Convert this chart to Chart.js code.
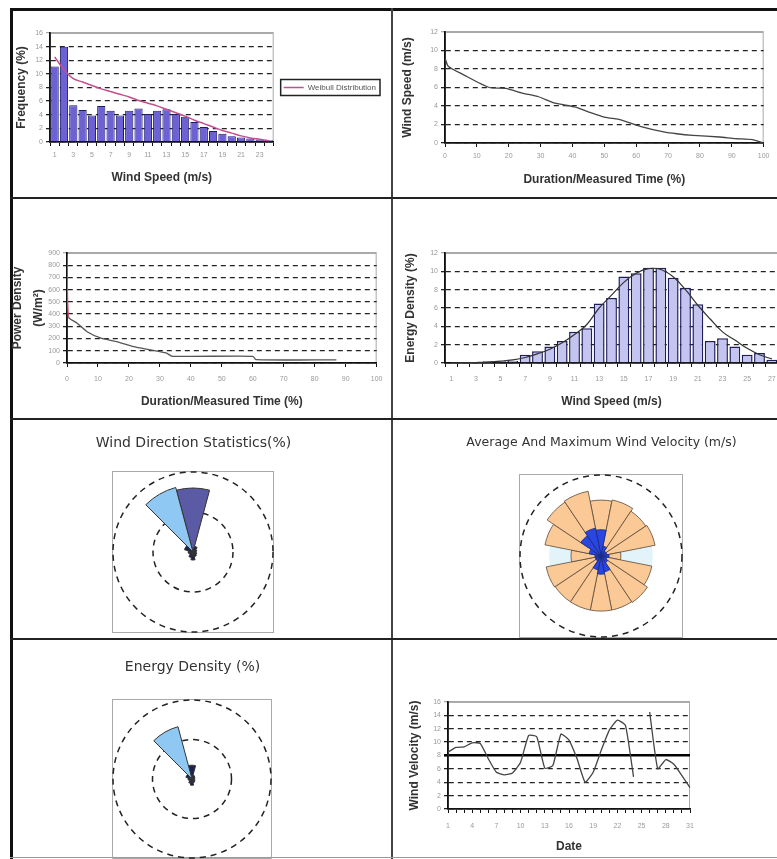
<!DOCTYPE html>
<html>
<head>
<meta charset="utf-8">
<title>Wind statistics</title>
<script src="https://cdn.jsdelivr.net/npm/chart.js@4.4.1/dist/chart.umd.min.js"></script>
<style>
  html, body { margin: 0; padding: 0; background: #fff; }
  body { position: relative; width: 777px; height: 859px; overflow: hidden; }
  .rule { position: absolute; background: #222; }
  canvas { position: absolute; }
</style>
</head>
<body>
<div class="rule" style="left:10px;top:8px;width:780px;height:3px;background:#111"></div>
<div class="rule" style="left:10px;top:8px;width:3px;height:860px;background:#111"></div>
<div class="rule" style="left:391px;top:8px;width:2px;height:860px;background:#444"></div>
<div class="rule" style="left:10px;top:197px;width:780px;height:2px"></div>
<div class="rule" style="left:10px;top:418px;width:780px;height:2px"></div>
<div class="rule" style="left:10px;top:638px;width:780px;height:2px"></div>
<div class="rule" style="left:10px;top:857px;width:780px;height:1px;background:#999"></div>

<canvas id="freqChart" width="376" height="184" style="left:14px;top:12px"></canvas>
<canvas id="durChart" width="380" height="184" style="left:394px;top:12px"></canvas>
<canvas id="powerChart" width="388" height="217" style="left:2px;top:200px"></canvas>
<canvas id="energyChart" width="396" height="217" style="left:394px;top:200px"></canvas>
<canvas id="dirChart" width="359" height="217" style="left:14px;top:421px"></canvas>
<canvas id="velRoseChart" width="415" height="217" style="left:394px;top:421px"></canvas>
<canvas id="energyRoseChart" width="357" height="217" style="left:14px;top:642px"></canvas>
<canvas id="dailyChart" width="380" height="217" style="left:394px;top:642px"></canvas>

<script>
// wind speed frequency distribution
const speedBins = ['1','2','3','4','5','6','7','8','9','10','11','12','13','14','15','16','17','18','19','20','21','22','23','24'];
const freqPct = [11.1, 14.0, 5.4, 4.7, 3.9, 5.3, 4.6, 3.9, 4.6, 4.9, 4.1, 4.6, 4.8, 4.1, 3.7, 2.95, 2.2, 1.6, 1.2, 0.85, 0.65, 0.5, 0.35, 0.25];
const weibullFit = [12.5, 10.6, 9.3, 8.8, 8.3, 7.8, 7.4, 7.0, 6.6, 6.1, 5.7, 5.3, 4.8, 4.3, 3.8, 3.2, 2.7, 2.2, 1.7, 1.3, 0.9, 0.6, 0.4, 0.2];

// speed duration curve
const durPct = [0, 1, 5.7, 13.9, 19.1, 24.2, 29.4, 34.5, 40.7, 44.8, 50, 55.2, 60.3, 63.4, 68.6, 72.7, 77.8, 86.1, 91.2, 96.4, 100];
const durSpeed = [9.2, 8.3, 7.4, 6.0, 5.9, 5.4, 5.0, 4.3, 3.9, 3.4, 2.8, 2.5, 1.9, 1.6, 1.2, 1.0, 0.83, 0.65, 0.47, 0.36, 0];

// power density duration curve
const pdPct = [0, 0.5, 3.2, 6.5, 10.8, 16, 21.5, 27, 32, 34, 60, 61, 87];
const pdPower = [890, 375, 328, 256, 205, 175, 134, 107, 82, 55, 55, 28, 25];

// energy density by wind speed
const energyBins = ['1','2','3','4','5','6','7','8','9','10','11','12','13','14','15','16','17','18','19','20','21','22','23','24','25','26','27'];
const energyPct = [0.0, 0.05, 0.07, 0.18, 0.18, 0.25, 0.9, 1.27, 1.8, 2.4, 3.4, 3.8, 6.5, 7.1, 9.45, 9.8, 10.4, 10.4, 9.3, 8.2, 6.4, 2.4, 2.7, 1.8, 0.9, 1.1, 0.36];
const energyFit = [0, 0.02, 0.05, 0.1, 0.2, 0.35, 0.6, 1.0, 1.5, 2.2, 3.1, 4.2, 6.0, 7.4, 8.8, 9.8, 10.3, 10.2, 9.4, 8.0, 6.3, 4.8, 3.4, 2.5, 1.6, 0.9, 0.45];

// roses
const dir12 = ['0°','30°','60°','90°','120°','150°','180°','210°','240°','270°','300°','330°'];
const dirFreqPct = [16.0, 1.5, 1.0, 0.8, 1.0, 1.2, 2.0, 1.5, 1.0, 1.2, 2.2, 16.7];
const dirEnergyPct = [3.5, 1.0, 0.8, 0.6, 0.8, 1.0, 1.6, 1.2, 0.8, 1.0, 1.6, 13.7];
const dir16 = ['N','NNE','NE','ENE','E','ESE','SE','SSE','S','SSW','SW','WSW','W','WNW','NW','NNW'];
const velAvg = [6.5, 2.5, 1.5, 1.5, 2.0, 1.5, 2.0, 4.0, 4.5, 3.5, 1.5, 1.5, 1.5, 3.0, 6.0, 7.0];
const velMax = [13.8, 14.1, 13.3, 13.6, 4.9, 12.8, 13.8, 13.6, 13.6, 13.6, 13.6, 13.8, 7.4, 14.1, 16.0, 16.3];
const velTypical = [12.6, 12.8, 12.5, 12.7, 12.8, 12.6, 12.5, 12.7, 12.6, 12.5, 12.6, 12.7, 12.8, 12.6, 12.5, 12.6];

// daily mean wind velocity
const days = ['1','2','3','4','5','6','7','8','9','10','11','12','13','14','15','16','17','18','19','20','21','22','23','24','25','26','27','28','29','30','31'];
const velocity = [8.5, 9.2, 9.3, 9.9, 9.8, 7.5, 5.5, 5.1, 5.4, 7.0, 11.0, 10.8, 6.1, 6.5, 11.2, 10.3, 7.5, 4.0, 5.5, 8.8, 11.8, 13.3, 12.5, 4.8, null, 14.5, 6.0, 7.4, 6.7, 5.0, 3.2];
const meanVelocity = 8;

Chart.defaults.font.family = '"Liberation Sans", Arial, sans-serif';
Chart.defaults.animation = false;
Chart.defaults.plugins.legend.display = false;
Chart.defaults.plugins.tooltip.enabled = false;

const tickFont = { size: 7 };
const tickColor = '#999';
const titleFont = { size: 12, weight: 'bold' };
const legendFont = { size: 8 };

// grey frame round the plot area (or a square round a rose), drawn first
const plotFrame = {
  id: 'plotFrame',
  beforeDraw(chart, args, opts) {
    if (!opts.color) return;
    const ctx = chart.ctx;
    let x, y, w, h;
    const r = chart.scales.r;
    if (r) {
      const half = r.drawingArea + 1;
      x = r.xCenter - half; y = r.yCenter - half; w = half * 2; h = half * 2;
    } else {
      const a = chart.chartArea;
      x = a.left; y = a.top; w = a.right - a.left; h = a.bottom - a.top;
    }
    ctx.save();
    ctx.strokeStyle = opts.color;
    ctx.lineWidth = 1;
    ctx.strokeRect(x + 0.5, y + 0.5, w - 1, h - 1);
    ctx.restore();
  }
};

// box round the legend like the excel one
const legendBox = {
  id: 'legendBox',
  afterDraw(chart, args, opts) {
    if (!opts.display || !chart.legend || !chart.legend.legendHitBoxes.length) return;
    const hb = chart.legend.legendHitBoxes[0];
    const item = chart.legend.legendItems[0];
    const ctx = chart.ctx;
    ctx.save();
    ctx.font = legendFont.size + 'px ' + Chart.defaults.font.family;
    const w = 20 + legendFont.size / 2 + ctx.measureText(item.text).width;
    ctx.strokeStyle = '#222';
    ctx.lineWidth = 1.5;
    ctx.strokeRect(hb.left - 3, hb.top - 4, w + 7, hb.height + 8);
    ctx.restore();
  }
};
Chart.register(plotFrame, legendBox);

function valueAxis(max, step, title, width, titlePad, special) {
  const isTop = c => c.tick && c.tick.value === max;
  const isSpecial = c => special !== undefined && c.tick && c.tick.value === special;
  return {
    min: 0, max: max,
    ticks: { stepSize: step, font: tickFont, color: tickColor, padding: 3 },
    grid: {
      color: c => isSpecial(c) ? '#000' : (isTop(c) ? '#aaa' : '#222'),
      lineWidth: c => isSpecial(c) ? 2.6 : 1.3,
      tickLength: 4
    },
    border: { color: '#111', width: 1.8, dash: c => (isTop(c) || isSpecial(c)) ? [] : [5, 4] },
    title: { display: true, text: title, font: titleFont, color: '#333', padding: { top: titlePad, bottom: 0 } },
    afterFit: s => { s.width = width; }
  };
}

function catAxis(title, height, labelPad, titlePad, every) {
  return {
    ticks: {
      font: tickFont, color: tickColor, padding: labelPad, autoSkip: false, maxRotation: 0,
      callback: function (v, i) { return i % every === 0 ? this.getLabelForValue(v) : ''; }
    },
    grid: { drawOnChartArea: false, color: '#111', tickLength: 4 },
    border: { color: '#111', width: 1.8 },
    title: { display: true, text: title, font: titleFont, color: '#333', padding: { top: 0, bottom: titlePad } },
    afterFit: s => { s.height = height; }
  };
}

function pctAxis(title, height, labelPad, titlePad) {
  return {
    type: 'linear', min: 0, max: 100,
    ticks: { stepSize: 10, font: tickFont, color: tickColor, padding: labelPad, maxRotation: 0 },
    grid: { drawOnChartArea: false, color: '#111', tickLength: 4 },
    border: { color: '#111', width: 1.8 },
    title: { display: true, text: title, font: titleFont, color: '#333', padding: { top: 0, bottom: titlePad } },
    afterFit: s => { s.height = height; }
  };
}

function roseScale(max, step, startAngle) {
  return {
    min: 0, max: max, startAngle: startAngle,
    ticks: { display: false, stepSize: step },
    grid: { color: '#222', lineWidth: 1.5 },
    border: { dash: [6, 5] },
    angleLines: { display: false },
    pointLabels: { display: false }
  };
}

function roseTitle(text, size, top, bottom) {
  return {
    display: true, text: text, color: '#333',
    font: { family: '"DejaVu Sans", sans-serif', size: size, weight: 'normal', lineHeight: 1.2 },
    padding: { top: top, bottom: bottom }
  };
}

// frequency distribution
new Chart(document.getElementById('freqChart'), {
  type: 'bar',
  data: {
    labels: speedBins,
    datasets: [
      { type: 'line', label: 'Weibull Distribution', data: weibullFit, borderColor: '#c2508e', backgroundColor: '#c2508e',
        borderWidth: 1.5, pointRadius: 0, pointStyle: 'line', tension: 0.3 },
      { label: 'Frequency', data: freqPct, backgroundColor: '#6c62d4', borderColor: '#1d1b66', borderWidth: 1,
        barPercentage: 0.88, categoryPercentage: 1 }
    ]
  },
  options: {
    responsive: false,
    layout: { padding: { left: 0, top: 21, right: 4, bottom: 8 } },
    scales: {
      x: catAxis('Wind Speed (m/s)', 46, 5, 2.8, 2),
      y: valueAxis(16, 2, 'Frequency (%)', 36, 0)
    },
    plugins: {
      legend: {
        display: true, position: 'right', fullSize: false, maxWidth: 140,
        labels: { usePointStyle: true, pointStyleWidth: 20, font: legendFont, color: '#555', padding: 10,
          filter: it => it.datasetIndex === 0 }
      },
      legendBox: { display: true },
      plotFrame: { color: '#aaa' }
    }
  }
});

// wind speed duration
new Chart(document.getElementById('durChart'), {
  type: 'line',
  data: {
    datasets: [{
      data: durPct.map((x, i) => ({ x: x, y: durSpeed[i] })),
      borderColor: '#444', borderWidth: 1.3, pointRadius: 0, tension: 0.2
    }]
  },
  options: {
    responsive: false,
    layout: { padding: { left: 0, top: 20, right: 6, bottom: 4 } },
    scales: {
      x: pctAxis('Duration/Measured Time (%)', 49, 4.5, 4.8),
      y: valueAxis(12, 2, 'Wind Speed (m/s)', 51, 6.8)
    },
    plugins: { plotFrame: { color: '#aaa' } }
  }
});

// power density duration
const powerY = valueAxis(900, 100, ['Power Density', '(W/m²)'], 65, 5.8);
powerY.title.font = { size: 12, weight: 'bold', lineHeight: 1.7 };
new Chart(document.getElementById('powerChart'), {
  type: 'line',
  data: {
    datasets: [{
      data: pdPct.map((x, i) => ({ x: x, y: pdPower[i] })),
      borderColor: '#555', borderWidth: 1.3, pointRadius: 0, tension: 0.2,
      segment: { borderColor: c => c.p0DataIndex === 0 ? '#d04a6a' : undefined }
    }]
  },
  options: {
    responsive: false,
    layout: { padding: { left: 0, top: 53, right: 13, bottom: 4 } },
    scales: {
      x: pctAxis('Duration/Measured Time (%)', 50, 7.5, 3.8),
      y: powerY
    },
    plugins: { plotFrame: { color: '#aaa' } }
  }
});

// energy density by wind speed
new Chart(document.getElementById('energyChart'), {
  type: 'bar',
  data: {
    labels: energyBins,
    datasets: [
      { type: 'line', data: energyFit, borderColor: '#333', borderWidth: 1.2, pointRadius: 0, tension: 0.4 },
      { data: energyPct, backgroundColor: '#c4c4f0', borderColor: '#1e1e5a', borderWidth: 1.5,
        barPercentage: 0.88, categoryPercentage: 1 }
    ]
  },
  options: {
    responsive: false,
    layout: { padding: { left: 0, top: 53, right: 12, bottom: 4 } },
    scales: {
      x: catAxis('Wind Speed (m/s)', 50, 7.5, 3.8, 2),
      y: valueAxis(12, 2, 'Energy Density (%)', 51, 9.8)
    },
    plugins: { plotFrame: { color: '#aaa' } }
  }
});

// wind direction statistics
new Chart(document.getElementById('dirChart'), {
  type: 'polarArea',
  data: {
    labels: dir12,
    datasets: [{
      data: dirFreqPct,
      backgroundColor: ['#5a5aa5', '#1f2050', '#1f2050', '#1f2050', '#1f2050', '#1f2050',
        '#1f2050', '#1f2050', '#1f2050', '#1f2050', '#1f2050', '#8fc8f2'],
      borderColor: '#333', borderWidth: 1
    }]
  },
  options: {
    responsive: false,
    layout: { padding: { left: 0, right: 0, top: 0, bottom: 5 } },
    scales: { r: roseScale(20, 10, -15) },
    plugins: {
      title: roseTitle('Wind Direction Statistics(%)', 14, 13.6, 20.6),
      plotFrame: { color: '#aaa' }
    }
  }
});

// average and maximum wind velocity rose
new Chart(document.getElementById('velRoseChart'), {
  type: 'polarArea',
  data: {
    labels: dir16,
    datasets: [
      { label: 'Average', data: velAvg, backgroundColor: '#2a46e0', borderColor: '#1a2a80', borderWidth: 0.8 },
      { label: 'Maximum', data: velMax, backgroundColor: '#fbc995', borderColor: '#5a4a3a', borderWidth: 0.8 },
      { label: 'Typical', data: velTypical, backgroundColor: '#e2f3fa', borderColor: '#e2f3fa', borderWidth: 0 }
    ]
  },
  options: {
    responsive: false,
    layout: { padding: { left: 0, right: 0, top: 0, bottom: 1 } },
    scales: { r: roseScale(20, 10, -11.25) },
    plugins: {
      title: roseTitle('Average And Maximum Wind Velocity (m/s)', 12.5, 14.5, 24.5),
      plotFrame: { color: '#aaa' }
    }
  }
});

// energy density rose
new Chart(document.getElementById('energyRoseChart'), {
  type: 'polarArea',
  data: {
    labels: dir12,
    datasets: [{
      data: dirEnergyPct,
      backgroundColor: ['#1f2050', '#1f2050', '#1f2050', '#1f2050', '#1f2050', '#1f2050',
        '#1f2050', '#1f2050', '#1f2050', '#1f2050', '#1f2050', '#8fc8f2'],
      borderColor: '#333', borderWidth: 1
    }]
  },
  options: {
    responsive: false,
    layout: { padding: { left: 0, right: 0, top: 0, bottom: 1 } },
    scales: { r: roseScale(20, 10, -15) },
    plugins: {
      title: roseTitle('Energy Density (%)', 14, 16.6, 24.6),
      plotFrame: { color: '#aaa' }
    }
  }
});

// daily wind velocity
new Chart(document.getElementById('dailyChart'), {
  type: 'line',
  data: {
    labels: days,
    datasets: [{ data: velocity, borderColor: '#444', borderWidth: 1.3, pointRadius: 0, spanGaps: false, tension: 0.15 }]
  },
  options: {
    responsive: false,
    layout: { padding: { left: 0, top: 60, right: 84, bottom: 0 } },
    scales: {
      x: catAxis('Date', 50, 8.5, 4.8, 3),
      y: valueAxis(16, 2, 'Wind Velocity (m/s)', 54, 13.8, meanVelocity)
    },
    plugins: { plotFrame: { color: '#aaa' } }
  }
});
</script>
</body>
</html>
